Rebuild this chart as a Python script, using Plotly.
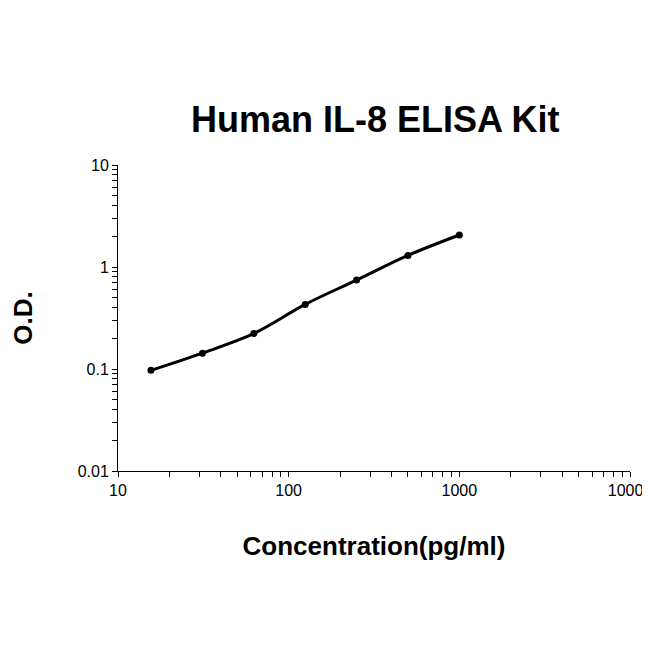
import plotly.graph_objects as go

conc = [15.6, 31.25, 62.5, 125, 250, 500, 1000]
od = [0.097, 0.143, 0.223, 0.43, 0.745, 1.3, 2.06]

x_major = [10, 100, 1000, 10000]
y_major = [0.01, 0.1, 1, 10]
x_ticks = [m * d for d in [10, 100, 1000] for m in range(1, 10)] + [10000]
y_ticks = [m * d for d in [0.01, 0.1, 1] for m in range(1, 10)] + [10]

fig = go.Figure()
fig.add_trace(go.Scatter(
    x=conc, y=od, mode="lines+markers",
    line=dict(color="black", width=3, shape="spline"),
    marker=dict(color="black", size=7),
))

font = "Liberation Sans, Arial, sans-serif"
fig.update_layout(
    width=650, height=650,
    margin=dict(l=110, r=28, t=157, b=187, autoexpand=False),
    plot_bgcolor="white", paper_bgcolor="white",
    showlegend=False,
    font=dict(family=font, color="black", size=16),
    title=dict(text="<b>Human IL-8 ELISA Kit</b>", x=0.565, xanchor="center",
               y=0.828, yanchor="middle", font=dict(size=36)),
)
fig.update_xaxes(
    type="log", range=[1, 4], showgrid=False, showline=True, linecolor="black",
    linewidth=1, ticks="outside", ticklen=5, tickcolor="black", automargin=False,
    tickvals=x_ticks, ticktext=[str(v) if v in x_major else "" for v in x_ticks],
    title=dict(text="<b>Concentration(pg/ml)</b>", font=dict(size=26), standoff=38),
)
fig.update_yaxes(
    type="log", range=[-2, 1], showgrid=False, showline=True, linecolor="black",
    linewidth=1, ticks="outside", ticklen=5, tickcolor="black", automargin=False,
    tickvals=y_ticks, ticktext=[str(v) if v in y_major else "" for v in y_ticks],
    title=dict(text="<b>O.D.</b>", font=dict(size=26), standoff=55),
)
fig.write_html("out.html")
